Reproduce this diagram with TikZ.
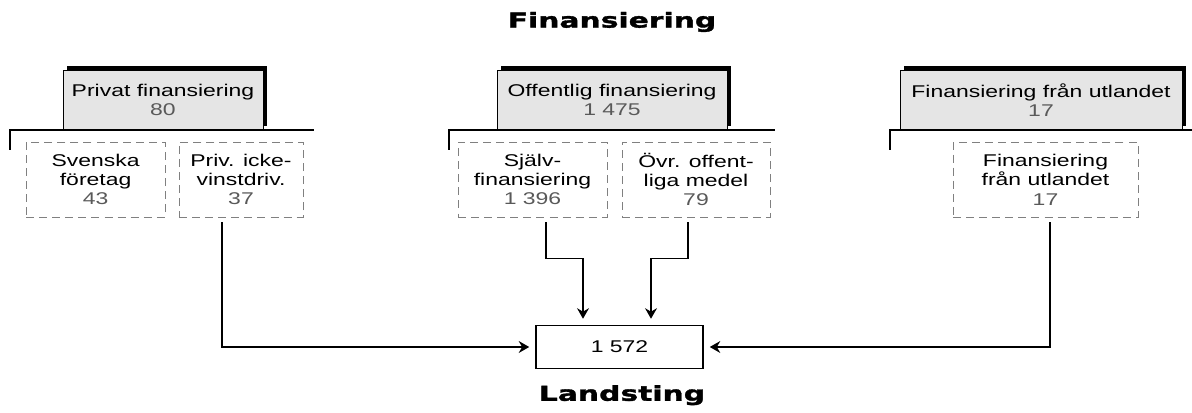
\documentclass[tikz,border=0pt]{standalone}
\usepackage{fontspec}
\setmainfont{Liberation Sans}[FakeStretch=1.35]
\newfontfamily\titlefont{DejaVu Sans}[FakeStretch=1.45, BoldFeatures={FakeBold=1.6}]
\usetikzlibrary{arrows.meta,shadows}
\definecolor{numgray}{gray}{0.35}
\definecolor{boxgray}{gray}{0.9}
\definecolor{dashgray}{gray}{0.5}

\begin{document}
\begin{tikzpicture}[
        source/.style={draw=black, line width=0.6pt, fill=boxgray,
            general shadow={shadow xshift=0.1cm, shadow yshift=0.1cm, fill=black},
            minimum height=1.5cm, inner sep=0pt, align=center,
            font=\fontsize{12.1}{13.8}\selectfont},
        part/.style={draw=dashgray, dash pattern=on 5.7pt off 3.6pt, line width=0.6pt,
            minimum height=1.875cm, inner sep=0pt, align=center,
            font=\fontsize{12.1}{13.8}\selectfont},
        sum/.style={draw=black, line width=1.1pt, minimum width=4.175cm,
            minimum height=1.075cm, inner sep=0pt,
            font=\fontsize{12.1}{13.8}\selectfont},
        bracket/.style={line width=1.2pt},
        flow/.style={line width=0.9pt, -{Stealth[length=7.5pt,width=8.5pt,inset=2.5pt]},
            shorten >=0.15cm},
        heading/.style={font=\titlefont\bfseries\fontsize{14.6}{16}\selectfont}
    ]

        \useasboundingbox (00.00,00.00) rectangle (29.80,10.30);

        % Titles
        \node [heading] (fin) at (15.30,09.75) {Finansiering};
        \node [heading] (land) at (15.55,00.42) {Landsting};

        % Privat finansiering
        \node [source, minimum width=5.00cm] (privat) at (04.075,07.80)
            {Privat finansiering\\\textcolor{numgray}{80}};
        \draw [bracket] (00.25,07.05) -- (07.85,07.05);
        \draw [line width=2pt] (00.25,07.07) -- (00.25,06.55);
        \node [part, minimum width=3.475cm] (svenska) at (02.39,05.8125)
            {Svenska\\f\"oretag\\\textcolor{numgray}{43}};
        \node [part, minimum width=3.10cm] (ickevinst) at (06.025,05.8125)
            {Priv. icke-\\vinstdriv.\\\textcolor{numgray}{37}};

        % Offentlig finansiering
        \node [source, minimum width=5.75cm] (offentlig) at (15.30,07.80)
            {Offentlig finansiering\\\textcolor{numgray}{1 475}};
        \draw [bracket] (11.225,07.05) -- (19.375,07.05);
        \draw [line width=2pt] (11.225,07.07) -- (11.225,06.55);
        \node [part, minimum width=3.725cm] (sjalv) at (13.3125,05.8125)
            {Sj\"alv-\\finansiering\\\textcolor{numgray}{1 396}};
        \node [part, minimum width=3.70cm] (ovrig) at (17.40,05.8125)
            {\"Ovr. offent-\\liga medel\\\textcolor{numgray}{79}};

        % Finansiering fran utlandet
        \node [source, minimum width=7.05cm] (utland) at (26.025,07.80)
            {Finansiering fr\aa n utlandet\\\textcolor{numgray}{17}};
        \draw [bracket] (22.25,07.05) -- (29.80,07.05);
        \draw [line width=2pt] (22.25,07.07) -- (22.25,06.55);
        \node [part, minimum width=4.625cm] (utlandpart) at (26.1375,05.8125)
            {Finansiering\\fr\aa n utlandet\\\textcolor{numgray}{17}};

        % Landsting
        \node [sum] (total) at (15.4875,01.625) {1 572};

        % flows into Landsting
        \draw [flow] ([xshift=-0.475cm,yshift=-0.125cm]ickevinst.south) |- (total.west);
        \draw [flow] ([xshift=0.1125cm,yshift=-0.125cm]utlandpart.south) |- (total.east);
        \draw [flow] ([xshift=0.3375cm,yshift=-0.125cm]sjalv.south) -- ++(0,-0.90)
            -| ([xshift=-0.9125cm]total.north);
        \draw [flow] ([xshift=-0.20cm,yshift=-0.125cm]ovrig.south) -- ++(0,-0.90)
            -| ([xshift=0.7875cm]total.north);

    \end{tikzpicture}
\end{document}
